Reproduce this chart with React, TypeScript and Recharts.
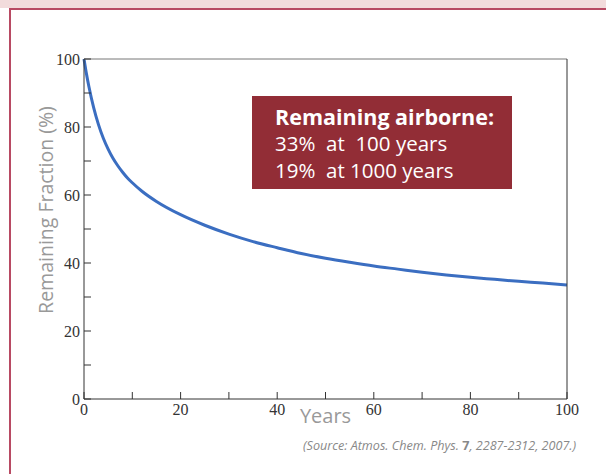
import React from 'react';
import { LineChart, Line, XAxis, YAxis } from 'recharts';

const years = [0, 0.5, 1, 2, 3, 4, 5, 6, 7, 8, 9, 10, 12, 15, 20, 25, 30, 35, 40, 45, 50, 55, 60, 65, 70, 75, 80, 85, 90, 95, 100];
const remaining = [100, 95.7, 92.0, 85.7, 80.7, 76.7, 73.5, 70.8, 68.6, 66.7, 65.0, 63.6, 61.1, 58.1, 54.2, 51.1, 48.5, 46.3, 44.5, 42.8, 41.4, 40.2, 39.1, 38.2, 37.3, 36.5, 35.8, 35.2, 34.6, 34.1, 33.5];
const tickValues = [0, 10, 20, 30, 40, 50, 60, 70, 80, 90, 100];

const data = years.map((t, i) => ({ t, v: remaining[i] }));

const tickFont = { fontSize: 16, fontFamily: '"Liberation Serif", serif', fill: '#333' };
const gill = '"Open Sans", sans-serif';
const majorOnly = (v: number) => (v % 20 === 0 ? String(v) : '');

const App: React.FC = () => {
  return (
    <div style={{ position: 'absolute', left: 0, top: 0, width: 606, height: 474, overflow: 'hidden', background: '#fff' }}>
      <div style={{ position: 'absolute', left: 0, top: 0, width: 606, height: 8, background: '#f2dcdc' }} />
      <div style={{ position: 'absolute', left: 9, top: 8, width: 620, height: 500, borderLeft: '2px solid #b84a63', borderTop: '2px solid #b84a63' }} />

      <div style={{ position: 'absolute', left: 0, top: 0 }}>
        <LineChart width={606} height={474} data={data} margin={{ top: 58, right: 38, bottom: 45, left: 44 }}>
          <XAxis
            xAxisId="x"
            dataKey="t"
            type="number"
            domain={[0, 100]}
            ticks={tickValues}
            tickFormatter={majorOnly}
            tickSize={-7}
            tickMargin={12}
            height={30}
            stroke="#333"
            tick={tickFont}
            label={{ value: 'Years', position: 'insideBottom', offset: 6, fill: '#999', fontSize: 20, fontFamily: gill }}
          />
          <XAxis
            xAxisId="xt"
            orientation="top"
            type="number"
            domain={[0, 100]}
            ticks={tickValues}
            tickSize={-7}
            tick={false}
            height={1}
            stroke="#777"
          />
          <YAxis
            yAxisId="y"
            type="number"
            domain={[0, 100]}
            ticks={tickValues}
            tickFormatter={majorOnly}
            tickSize={-7}
            tickMargin={11}
            width={40}
            stroke="#333"
            tick={tickFont}
          />
          <YAxis
            yAxisId="yr"
            orientation="right"
            type="number"
            domain={[0, 100]}
            ticks={tickValues}
            tickSize={-7}
            tick={false}
            width={1}
            stroke="#333"
          />
          <Line
            xAxisId="x"
            yAxisId="y"
            type="monotone"
            dataKey="v"
            stroke="#3b6ec1"
            strokeWidth={3}
            dot={false}
            isAnimationActive={false}
          />
        </LineChart>
      </div>

      <div
        style={{
          position: 'absolute',
          left: 45,
          top: 210,
          transform: 'translate(-50%, -50%) rotate(-90deg)',
          whiteSpace: 'nowrap',
          color: '#999',
          fontSize: 19.5,
          fontFamily: gill,
        }}
      >
        Remaining Fraction (%)
      </div>

      <div
        style={{
          position: 'absolute',
          left: 252,
          top: 96,
          width: 260,
          height: 93,
          background: '#922d36',
          color: '#fff',
          fontFamily: gill,
          boxSizing: 'border-box',
          padding: '7px 0 0 23px',
          lineHeight: '27px',
        }}
      >
        <div style={{ fontWeight: 'bold', fontSize: 21.5 }}>Remaining airborne:</div>
        <div style={{ fontSize: 20.5, whiteSpace: 'pre' }}>33%  at  100 years</div>
        <div style={{ fontSize: 20.5, whiteSpace: 'pre' }}>19%  at 1000 years</div>
      </div>

      <div
        style={{
          position: 'absolute',
          left: 303,
          top: 437,
          color: '#888',
          fontSize: 12.6,
          fontFamily: gill,
          whiteSpace: 'nowrap',
        }}
      >
        <i>(Source: Atmos. Chem. Phys. </i>
        <b>7</b>
        <i>, 2287-2312, 2007.)</i>
      </div>
    </div>
  );
};

export default App;
